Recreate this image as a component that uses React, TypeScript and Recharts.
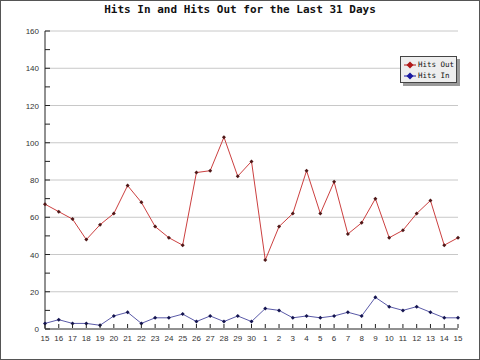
import { LineChart, Line, XAxis, YAxis, CartesianGrid } from "recharts";

const days = [
  "15", "16", "17", "18", "19", "20", "21", "22", "23", "24", "25", "26", "27", "28", "29", "30",
  "1", "2", "3", "4", "5", "6", "7", "8", "9", "10", "11", "12", "13", "14", "15",
];
const hitsOut = [
  67, 63, 59, 48, 56, 62, 77, 68, 55, 49, 45, 84, 85, 103, 82, 90,
  37, 55, 62, 85, 62, 79, 51, 57, 70, 49, 53, 62, 69, 45, 49,
];
const hitsIn = [
  3, 5, 3, 3, 2, 7, 9, 3, 6, 6, 8, 4, 7, 4, 7, 4,
  11, 10, 6, 7, 6, 7, 9, 7, 17, 12, 10, 12, 9, 6, 6,
];
const yTicks = [0, 10, 20, 30, 40, 50, 60, 70, 80, 90, 100, 110, 120, 130, 140, 150, 160];
const gridTicks = [20, 40, 60, 80, 100, 120, 140, 160];

const data = days.map((d, i) => ({ day: d, idx: i, out: hitsOut[i], in: hitsIn[i] }));

const tickFont = "'Liberation Sans', Arial, sans-serif";
const monoFont = "'DejaVu Sans Mono', monospace";

const YTick = (props: any) => {
  const { x, y, payload } = props;
  const v = payload.value;
  return (
    <g>
      <line x1={x + 6} x2={x + 11} y1={y} y2={y} stroke="#222" strokeWidth={1} />
      {v % 20 === 0 && (
        <text x={x} y={y} dy={3} textAnchor="end" fontSize={8} fontFamily={tickFont} fill="#333">
          {v}
        </text>
      )}
    </g>
  );
};

const XTick = (props: any) => {
  const { x, y, payload } = props;
  return (
    <g>
      <line x1={x} x2={x} y1={y - 1} y2={y - 5} stroke="#222" strokeWidth={1} />
      <text x={x} y={y} dy={12} textAnchor="middle" fontSize={8} fontFamily={tickFont} fill="#333">
        {days[payload.value]}
      </text>
    </g>
  );
};

const makeDot = (color: string) => (props: any) => {
  const { cx, cy, index } = props;
  if (cx == null || cy == null) return <g key={index} />;
  const r = 2;
  return (
    <path
      key={index}
      d={`M${cx},${cy - r} L${cx + r},${cy} L${cx},${cy + r} L${cx - r},${cy} Z`}
      fill={color}
    />
  );
};

const legendItems = [
  { label: "Hits Out", color: "#b01818" },
  { label: "Hits In", color: "#1818a0" },
];

// legend drawn as an overlay so it doesn't eat into the plot area
const LegendBox = () => (
  <div style={{ position: "absolute", left: 399, top: 55, width: 57, height: 27, zIndex: 3 }}>
    <div
      style={{
        position: "absolute",
        left: 3,
        top: 3,
        width: 57,
        height: 27,
        background: "#9a9a9a",
      }}
    />
    <div
      style={{
        position: "absolute",
        left: 0,
        top: 0,
        width: 57,
        height: 27,
        boxSizing: "border-box",
        border: "1px solid #444",
        background: "#eeeeee",
      }}
    >
      {legendItems.map((it, i) => (
        <div
          key={it.label}
          style={{ position: "absolute", left: 3, top: 3 + i * 11, height: 10, display: "flex", alignItems: "center" }}
        >
          <svg width={12} height={10} style={{ display: "block" }}>
            <line x1={0} x2={12} y1={5} y2={5} stroke={it.color} strokeWidth={1} />
            <path d="M6,1.5 L9.5,5 L6,8.5 L2.5,5 Z" fill={it.color} />
          </svg>
          <span
            style={{
              marginLeft: 2,
              fontFamily: monoFont,
              fontSize: 7.5,
              color: "#111",
              lineHeight: "10px",
              whiteSpace: "nowrap",
            }}
          >
            {it.label}
          </span>
        </div>
      ))}
    </div>
  </div>
);

export default function App() {
  return (
    <div
      style={{
        position: "absolute",
        left: 0,
        top: 0,
        width: 480,
        height: 360,
        boxSizing: "border-box",
        border: "1px solid #555",
        background: "#fff",
        overflow: "hidden",
      }}
    >
      <div
        style={{
          position: "absolute",
          left: 0,
          top: 2,
          width: 478,
          textAlign: "center",
          fontFamily: monoFont,
          fontWeight: "bold",
          fontSize: 11,
          lineHeight: "14px",
          color: "#111",
          zIndex: 2,
        }}
      >
        Hits In and Hits Out for the Last 31 Days
      </div>
      <div style={{ position: "absolute", left: -1, top: -1 }}>
        <LineChart width={480} height={360} data={data} margin={{ top: 31, right: 22, bottom: 0, left: 0 }}>
          <CartesianGrid vertical={false} horizontalValues={gridTicks} stroke="#c8c8c8" strokeWidth={1} />
          <XAxis
            dataKey="idx"
            type="category"
            scale="point"
            padding={{ left: 0, right: 0 }}
            interval={0}
            height={31}
            tickSize={0}
            tickMargin={0}
            tickLine={false}
            axisLine={{ stroke: "#222" }}
            tick={<XTick />}
          />
          <YAxis
            domain={[0, 160]}
            ticks={yTicks}
            interval={0}
            width={45}
            tickSize={0}
            tickMargin={6}
            tickLine={false}
            axisLine={{ stroke: "#222" }}
            tick={<YTick />}
          />
          <Line
            dataKey="in"
            name="Hits In"
            stroke="#5a5aa8"
            strokeWidth={1}
            dot={makeDot("#141450")}
            activeDot={false}
            isAnimationActive={false}
          />
          <Line
            dataKey="out"
            name="Hits Out"
            stroke="#cc4040"
            strokeWidth={1}
            dot={makeDot("#501818")}
            activeDot={false}
            isAnimationActive={false}
          />
        </LineChart>
      </div>
      <LegendBox />
    </div>
  );
}
